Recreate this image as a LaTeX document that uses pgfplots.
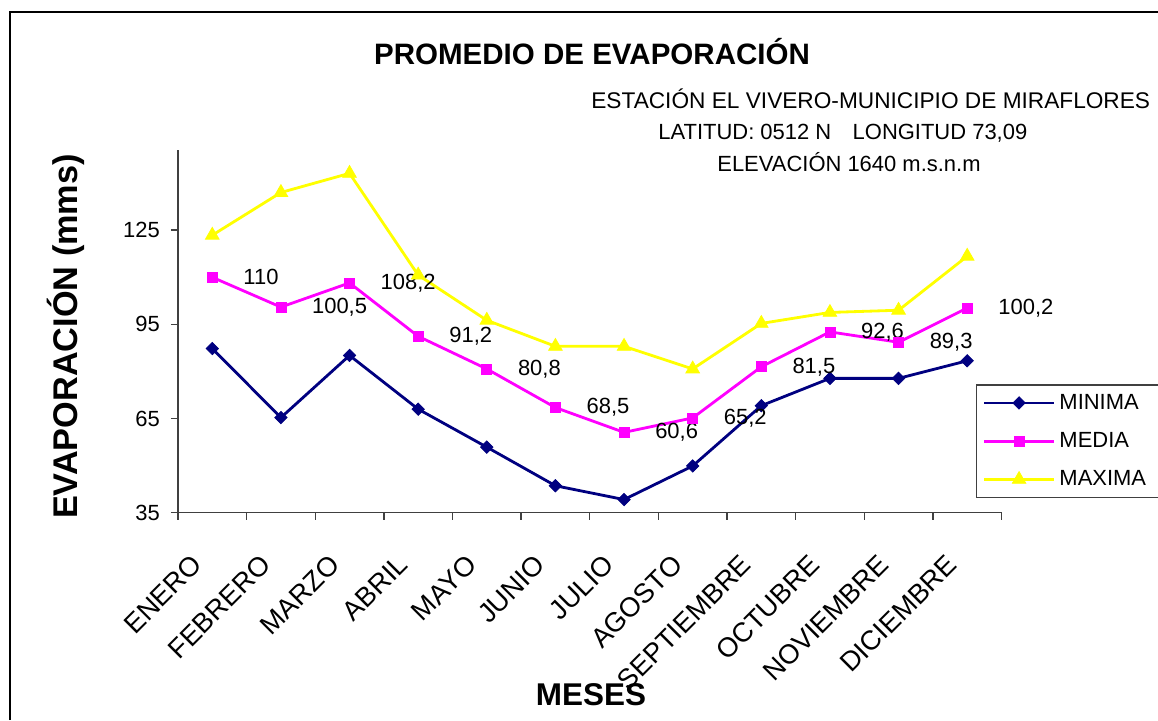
\documentclass[border=0pt]{standalone}
\usepackage{fontspec}
\setmainfont{Liberation Sans}
\usepackage{pgfplots}
\pgfplotsset{compat=1.18}
\definecolor{navyx}{RGB}{0,0,128}
\definecolor{magx}{RGB}{255,0,255}
\definecolor{yelx}{RGB}{255,255,0}
\newcommand\fn{\fontsize{12.5}{15}\selectfont}
\newcommand\fx{\fontsize{15.5}{18}\selectfont}
\newcommand\fbig{\fontsize{17.9}{21}\selectfont\bfseries}
\begin{document}
\begin{tikzpicture}
\begin{scope}[x=0.02cm,y=0.02cm]
\useasboundingbox (0,0) rectangle (1158,720);
\fill[white] (0,0) rectangle (1158,720);
\draw[black, line width=0.8pt] (10,0) -- (10,708) -- (1158,708);
\node[anchor=base, font=\fontsize{16.8}{20}\selectfont\bfseries] at (592,655) {PROMEDIO DE EVAPORACIÓN};
\node[anchor=base west, font=\fontsize{12.9}{15}\selectfont, inner sep=0pt] at (591,611.7) {ESTACIÓN EL VIVERO-MUNICIPIO DE MIRAFLORES};
\node[anchor=base west, font=\fn, inner sep=0pt] at (658,580) {LATITUD: 0512 N\hspace{0.7em} LONGITUD 73,09};
\node[anchor=base west, font=\fn, inner sep=0pt] at (717,548.3) {ELEVACIÓN 1640 m.s.n.m};
\node[anchor=base, rotate=90, font=\fontsize{19.5}{22}\selectfont\bfseries, inner sep=0pt] at (77,383.5) {EVAPORACIÓN (mms)};
\node[anchor=base, font=\fbig, inner sep=0pt] at (591,15) {MESES};
\end{scope}
\begin{pgfinterruptboundingbox}
\begin{axis}[
  at={(3.56cm,4.146cm)}, anchor=south west,
  scale only axis, width=16.474cm, height=7.254cm,
  xmin=-0.5, xmax=11.5, ymin=35, ymax=150.5,
  axis lines*=left,
  axis line style={black!75, line width=0.8pt, -},
  tick align=outside, major tick length=0.14cm,
  tick style={black!75, line width=0.8pt},
  ytick={35,65,95,125},
  yticklabel style={font=\fn, xshift=-0.1cm},
  /pgf/number format/assume math mode=true,
  xtick={-0.5,0.5,...,11.5}, xticklabel=\empty,
  extra x ticks={0,1,...,11},
  extra x tick labels={ENERO,FEBRERO,MARZO,ABRIL,MAYO,JUNIO,JULIO,AGOSTO,SEPTIEMBRE,OCTUBRE,NOVIEMBRE,DICIEMBRE},
  extra x tick style={major tick length=0pt, xticklabel style={font=\fx, xshift=-0.44cm, yshift=-0.64cm, rotate=45, anchor=north east}},
  clip=false,
  legend cell align=left,
  legend style={at={(0.969,0.354)}, anchor=north west, draw=black!75, line width=0.8pt, font=\fn,
    inner xsep=0.12cm, inner ysep=0.08cm, row sep=0.21cm,
    nodes={inner xsep=0.08cm, inner ysep=0.1cm}},
  legend image code/.code={\draw[mark repeat=2,mark phase=2] plot coordinates {(0cm,0cm) (0.7cm,0cm) (1.4cm,0cm)};},
]
\addplot[navyx, line width=1.6pt, mark=square*, mark size=2.5pt, mark options={rotate=45, solid, line width=0.4pt, fill=navyx}]
 coordinates {(0,87.3) (1,65.3) (2,85.1) (3,68.0) (4,55.9) (5,43.6) (6,39.2) (7,49.9) (8,69.1) (9,77.8) (10,77.8) (11,83.4)};
\addlegendentry{MINIMA}
\addplot[magx, line width=1.6pt, mark=square*, mark size=2.85pt, mark options={solid, line width=0.4pt, fill=magx},
  nodes near coords, point meta=explicit symbolic,
  every node near coord/.append style={text=black, font=\fn, anchor=west, xshift=0.5cm}]
 coordinates {(0,110)[110] (1,100.5)[{100,5}] (2,108.2)[{108,2}] (3,91.2)[{91,2}] (4,80.8)[{80,8}] (5,68.5)[{68,5}] (6,60.6)[{60,6}] (7,65.2)[{65,2}] (8,81.5)[{81,5}] (9,92.6)[{92,6}] (10,89.3)[{89,3}] (11,100.2)[{100,2}]};
\addlegendentry{MEDIA}
\addplot[yelx, line width=1.6pt, mark=triangle*, mark size=4.5pt, mark options={solid, line width=0.4pt, fill=yelx}]
 coordinates {(0,123.4) (1,137.0) (2,143.1) (3,110.7) (4,96.3) (5,88.0) (6,88.0) (7,80.8) (8,95.3) (9,98.8) (10,99.5) (11,116.7)};
\addlegendentry{MAXIMA\hspace*{0.3cm}}
\end{axis}
\end{pgfinterruptboundingbox}
\end{tikzpicture}
\end{document}
